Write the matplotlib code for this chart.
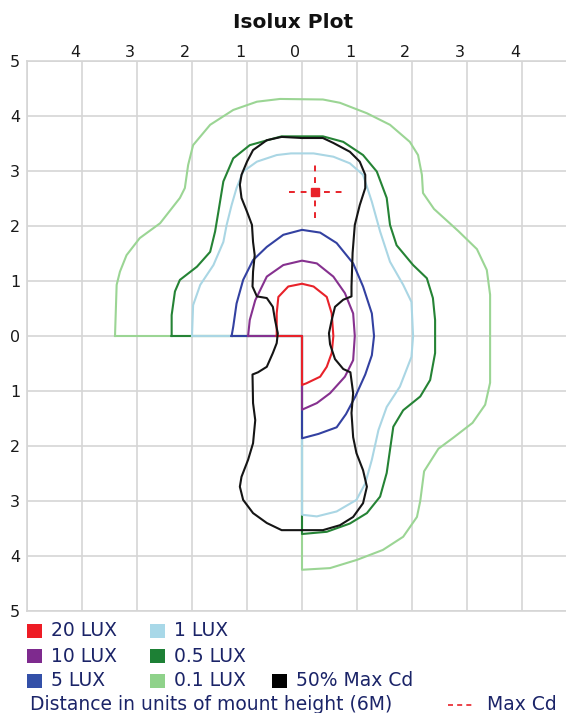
import matplotlib
matplotlib.use('Agg')
import matplotlib.pyplot as plt
from matplotlib.patches import Rectangle
from matplotlib.transforms import ScaledTranslation

# isolux contours (units of mount height)
lux20_x = [-0.46, -0.46, -0.43, -0.25, 0.0, 0.21, 0.45, 0.54, 0.57, 0.54, 0.45, 0.33, 0.08, 0.0, 0.0, -0.46]
lux20_y = [0.0, 0.41, 0.71, 0.90, 0.95, 0.90, 0.71, 0.41, 0.0, -0.31, -0.56, -0.74, -0.86, -0.89, 0.0, 0.0]

lux10_x = [-0.98, -0.95, -0.85, -0.64, -0.34, 0.0, 0.27, 0.57, 0.78, 0.93, 0.96, 0.93, 0.78, 0.51, 0.27, 0.0, 0.0, -0.98]
lux10_y = [0.0, 0.29, 0.65, 1.08, 1.29, 1.37, 1.32, 1.08, 0.78, 0.41, 0.0, -0.44, -0.74, -1.04, -1.22, -1.34, 0.0, 0.0]

lux5_x = [-1.28, -1.25, -1.19, -1.07, -0.89, -0.64, -0.34, 0.0, 0.33, 0.63, 0.93, 1.11, 1.27, 1.31, 1.27, 1.15,
          0.97, 0.80, 0.63, 0.30, 0.0, 0.0, -1.28]
lux5_y = [0.0, 0.17, 0.59, 1.02, 1.38, 1.62, 1.84, 1.93, 1.88, 1.69, 1.32, 0.90, 0.41, 0.0, -0.35, -0.70,
          -1.10, -1.42, -1.66, -1.78, -1.86, 0.0, 0.0]

lux1_x = [-2.0, -1.98, -1.85, -1.61, -1.43, -1.37, -1.28, -1.19, -1.07, -0.82, -0.46, -0.20, 0.21, 0.57, 0.87,
          1.11, 1.27, 1.42, 1.60, 1.84, 1.99, 2.02, 1.99, 1.78, 1.54, 1.39, 1.27, 1.15, 0.99, 0.63, 0.27, 0.0,
          0.0, -2.0]
lux1_y = [0.0, 0.56, 0.93, 1.29, 1.71, 2.02, 2.38, 2.69, 2.99, 3.17, 3.29, 3.32, 3.32, 3.26, 3.14,
          2.93, 2.44, 1.90, 1.35, 0.93, 0.62, 0.0, -0.38, -0.92, -1.29, -1.71, -2.25, -2.68, -2.98, -3.19, -3.28,
          -3.25, 0.0, 0.0]

lux05_x = [-2.37, -2.37, -2.31, -2.22, -1.91, -1.67, -1.58, -1.52, -1.43, -1.25, -0.95, -0.52, -0.37, 0.38,
           0.75, 1.11, 1.36, 1.54, 1.60, 1.72, 2.02, 2.27, 2.38, 2.42, 2.42, 2.33, 2.15, 1.84, 1.66, 1.60, 1.54,
           1.42, 1.18, 0.87, 0.45, 0.0, 0.0, -2.37]
lux05_y = [0.0, 0.38, 0.81, 1.02, 1.26, 1.53, 1.90, 2.26, 2.81, 3.23, 3.47, 3.59, 3.63, 3.63,
           3.53, 3.29, 2.99, 2.51, 2.02, 1.65, 1.29, 1.05, 0.69, 0.29, -0.31, -0.80, -1.10, -1.35, -1.65, -2.07,
           -2.49, -2.92, -3.22, -3.41, -3.56, -3.60, 0.0, 0.0]

lux01_x = [-3.40, -3.37, -3.31, -3.19, -2.95, -2.58, -2.22, -2.13, -2.07, -1.98, -1.67, -1.25, -0.82, -0.40,
           0.38, 0.69, 1.18, 1.60, 1.96, 2.11, 2.18, 2.20, 2.40, 2.84, 3.18, 3.36, 3.42, 3.42, 3.33, 3.10, 2.75,
           2.48, 2.22, 2.15, 2.09, 1.84, 1.47, 1.00, 0.51, 0.0, 0.0, -3.40]
lux01_y = [0.0, 0.93, 1.17, 1.47, 1.78, 2.05, 2.51, 2.69, 3.11, 3.47, 3.84, 4.11, 4.26, 4.31,
           4.30, 4.24, 4.05, 3.84, 3.53, 3.29, 2.93, 2.60, 2.31, 1.91, 1.58, 1.20, 0.75, -0.85, -1.25, -1.58, -1.85,
           -2.05, -2.46, -3.00, -3.29, -3.65, -3.89, -4.07, -4.22, -4.25, 0.0, 0.0]

maxcd50_x = [0.0, -0.37, -0.64, -0.89, -1.0, -1.1, -1.13, -1.1, -1.0, -0.91, -0.89, -0.86, -0.89, -0.90, -0.82,
             -0.64, -0.53, -0.49, -0.44, -0.46, -0.53, -0.64, -0.80, -0.90, -0.89, -0.85, -0.89, -0.98, -1.10,
             -1.13, -1.07, -0.89, -0.64, -0.37, 0.0, 0.38, 0.69, 0.93, 1.11, 1.18, 1.11, 0.99, 0.93, 0.90, 0.93,
             0.88, 0.75, 0.60, 0.51, 0.49, 0.54, 0.60, 0.75, 0.90, 0.90, 0.92, 0.96, 1.05, 1.15, 1.15, 1.05, 0.87,
             0.57, 0.38, 0.0]
maxcd50_y = [3.60, 3.62, 3.56, 3.38, 3.17, 2.93, 2.75, 2.51, 2.26, 2.02, 1.71, 1.47, 1.17, 0.90, 0.72,
             0.69, 0.53, 0.29, 0.05, -0.13, -0.31, -0.56, -0.66, -0.70, -1.22, -1.53, -1.95, -2.25, -2.56,
             -2.74, -2.98, -3.22, -3.40, -3.53, -3.53, -3.53, -3.44, -3.29, -3.04, -2.74, -2.44, -2.13, -1.84, -1.40, -1.04,
             -0.66, -0.60, -0.42, -0.15, 0.05, 0.29, 0.53, 0.66, 0.72, 0.90, 1.51, 2.02, 2.38, 2.69, 2.93, 3.17, 3.35,
             3.51, 3.60, 3.60]

max_cd = (0.24, 2.62)

lux_labels = ['20 LUX', '10 LUX', '5 LUX', '1 LUX', '0.5 LUX', '0.1 LUX', '50% Max Cd']
lux_colors = ['#e8222a', '#86318f', '#3341a1', '#aad6e4', '#258335', '#9bd594', '#151515']
legend_colors = ['#ee1c25', '#7e2a8e', '#3350a8', '#a8d8e8', '#1d8035', '#8fd28a', '#000000']

x_tick_pos = [-4, -3, -2, -1, 0, 1, 2, 3, 4]
y_tick_pos = [-5, -4, -3, -2, -1, 0, 1, 2, 3, 4, 5]

contours = [(lux01_x, lux01_y, 5), (lux05_x, lux05_y, 4), (lux1_x, lux1_y, 3), (lux5_x, lux5_y, 2),
            (lux10_x, lux10_y, 1), (lux20_x, lux20_y, 0), (maxcd50_x, maxcd50_y, 6)]

fig = plt.figure(figsize=(5.66, 7.13), dpi=100)
W, H = 566.0, 713.0
ax = fig.add_axes([27 / W, 102 / H, 539 / W, 550 / H])
ax.set_xlim(-5, 4.8)
ax.set_ylim(-5, 5)

grid_col = '#d5d5d5'
ax.set_xticks(range(-5, 5))
ax.set_yticks(y_tick_pos)
ax.grid(True, color=grid_col, lw=1.2)
ax.set_axisbelow(True)
for s in ['left', 'top', 'bottom']:
    ax.spines[s].set_color(grid_col)
    ax.spines[s].set_linewidth(1.2)
ax.spines['right'].set_visible(False)

ax.xaxis.tick_top()
ax.set_xticklabels([''] + [str(abs(v)) for v in x_tick_pos])
ax.set_yticklabels([str(abs(v)) for v in y_tick_pos])
ax.tick_params(axis='both', length=0, labelsize=11.5, colors='#1a1a1a')
ax.tick_params(axis='x', pad=1)
ax.tick_params(axis='y', pad=5)
for lab in ax.get_xticklabels():
    lab.set_transform(lab.get_transform() + ScaledTranslation(-7 / 100, 0, fig.dpi_scale_trans))

for xs, ys, k in contours:
    ax.plot(xs, ys, color=lux_colors[k], lw=1.5, solid_joinstyle='round')

# max candela crosshair
ax.plot([max_cd[0] - 0.48, max_cd[0] + 0.48], [max_cd[1], max_cd[1]], color='#e8222a', lw=1.4, ls=(0, (3, 3)))
ax.plot([max_cd[0], max_cd[0]], [max_cd[1] - 0.48, max_cd[1] + 0.48], color='#e8222a', lw=1.4, ls=(0, (3, 3)))
ax.plot(max_cd[0], max_cd[1], 's', color='#e8222a', ms=6)

fig.text(293 / W, 1 - 22 / H, 'Isolux Plot', ha='center', va='center', fontsize=14.5, fontweight='bold',
         color='#111111')

# legend drawn by hand
text_col = '#1b2468'
col_x = [27, 150, 272]
row_y = [631, 656, 681]
for i, lab in enumerate(lux_labels):
    c, r = (0, i) if i < 3 else ((1, i - 3) if i < 6 else (2, 2))
    x0, y0 = col_x[c], row_y[r]
    fig.patches.append(Rectangle((x0 / W, 1 - (y0 + 7) / H), 15 / W, 14 / H, transform=fig.transFigure,
                                 facecolor=legend_colors[i], edgecolor='none'))
    fig.text((x0 + 24) / W, 1 - y0 / H, lab, ha='left', va='center', fontsize=13.5, color=text_col)

fig.text(30 / W, 1 - 704 / H, 'Distance in units of mount height (6M)', ha='left', va='center', fontsize=13.5,
         color=text_col)
fig.lines.append(plt.Line2D([448 / W, 475 / W], [1 - 705 / H, 1 - 705 / H], transform=fig.transFigure,
                            color='#e8222a', lw=1.2, ls=(0, (3, 2.5))))
fig.text(487 / W, 1 - 704 / H, 'Max Cd', ha='left', va='center', fontsize=13.5, color=text_col)

fig.savefig('out.png', dpi=100)
